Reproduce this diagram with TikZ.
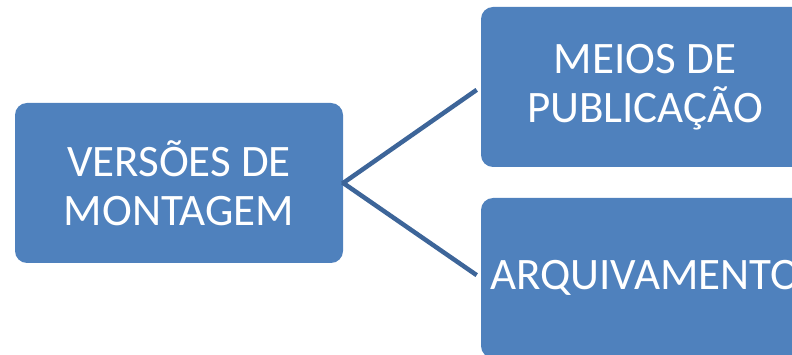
\documentclass[tikz,border=0pt]{standalone}
\usepackage{fontspec}
\setmainfont{Carlito}
\definecolor{boxblue}{RGB}{79,129,189}
\definecolor{lineblue}{RGB}{61,101,153}
\begin{document}
\begin{tikzpicture}[x=1pt,y=-1pt,
  blk/.style={rectangle, rounded corners=12pt, fill=boxblue, draw=none,
    minimum width=328pt, minimum height=160pt, inner sep=0pt,
    text=white, align=center, font=\fontsize{45pt}{49pt}\selectfont},
  conn/.style={draw=lineblue, line width=4.5pt}]
\useasboundingbox (0,0) rectangle (792,355);
\clip (0,0) rectangle (792,355);
\node[blk] (L) at (179,183) {VERSÕES DE\\MONTAGEM};
\node[blk] (T) at (645,87) {MEIOS DE\\PUBLICAÇÃO};
\node[blk] (B) at (645,278) {ARQUIVAMENTO};
\draw[conn, shorten <=-1pt, shorten >=5pt] (L.east) -- (T.west);
\draw[conn, shorten <=-1pt, shorten >=5pt] (L.east) -- (B.west);
\end{tikzpicture}
\end{document}
